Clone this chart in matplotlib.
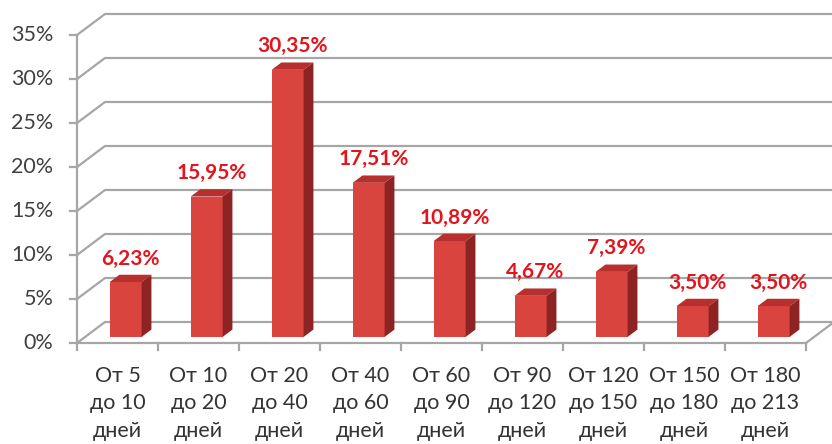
import matplotlib.pyplot as plt
from matplotlib.patches import Polygon
import numpy as np

plt.rcParams['font.family'] = ['Lato', 'DejaVu Sans']

categories = ['От 5\nдо 10\nдней', 'От 10\nдо 20\nдней', 'От 20\nдо 40\nдней',
              'От 40\nдо 60\nдней', 'От 60\nдо 90\nдней', 'От 90\nдо 120\nдней',
              'От 120\nдо 150\nдней', 'От 150\nдо 180\nдней', 'От 180\nдо 213\nдней']
values = [6.23, 15.95, 30.35, 17.51, 10.89, 4.67, 7.39, 3.50, 3.50]
labels = ['6,23%', '15,95%', '30,35%', '17,51%', '10,89%', '4,67%', '7,39%', '3,50%', '3,50%']
yticks = [0, 5, 10, 15, 20, 25, 30, 35]

# oblique projection of the depth axis (data units)
DX, DY = 0.3457, 2.386
z0, z1 = 0.29, 0.64   # bar depth span
w = 0.395
grid_c = '#a6a6a6'

fig = plt.figure(figsize=(8.32, 4.44), dpi=100)
ax = fig.add_axes([0, 0, 1, 1])
ax.set_xlim(-1.4506, 8.8210)
ax.set_ylim(-11.477, 38.977)
ax.axis('off')

n = len(values)
x0, x1 = -0.5, n - 0.5

# back wall gridlines + side-wall diagonals
for t in yticks:
    ax.plot([x0, x0 + DX, 9.5], [t, t + DY, t + DY], color=grid_c, lw=1.6, zorder=1)
# floor right edge
ax.plot([x1, x1 + DX], [0, DY], color=grid_c, lw=1.6, zorder=1)
# front axes
ax.plot([x0, x0], [0, yticks[-1]], color=grid_c, lw=1.6, zorder=2)
ax.plot([x0, x1], [0, 0], color=grid_c, lw=1.6, zorder=2)
for t in yticks:
    ax.plot([x0 - 0.09, x0], [t, t], color=grid_c, lw=1.6, zorder=2)
    ax.text(x0 - 0.29, t, f'{t}%', ha='right', va='center', fontsize=15.5, color='#404040')
for i in range(n + 1):
    ax.plot([x0 + i, x0 + i], [0, -0.75], color=grid_c, lw=1.6, zorder=2)

# bars
xs = np.arange(n)
bx = xs + z0 * DX
base = z0 * DY
dd = (z1 - z0)
ax.bar(bx, values, width=w, bottom=base, color='#d9443e', edgecolor='none', zorder=3)
for xi, v, lab in zip(bx, values, labels):
    l, r, top = xi - w / 2, xi + w / 2, base + v
    ax.add_patch(Polygon([(l, top), (r, top), (r + dd * DX, top + dd * DY), (l + dd * DX, top + dd * DY)],
                         closed=True, fc='#b8302d', ec='none', zorder=3))
    ax.add_patch(Polygon([(r, base), (r, top), (r + dd * DX, top + dd * DY), (r + dd * DX, base + dd * DY)],
                         closed=True, fc='#8e2323', ec='none', zorder=3))
    ax.text(xi + dd * DX / 2, top + dd * DY + 0.7, lab, ha='center', va='bottom',
            fontsize=15, fontweight='bold', color='#e3141c', zorder=4)

for i, c in enumerate(categories):
    ax.text(i, -2.6, c, ha='center', va='top', fontsize=15.5, color='#333333', linespacing=1.47)

plt.savefig('out.png', dpi=100)
